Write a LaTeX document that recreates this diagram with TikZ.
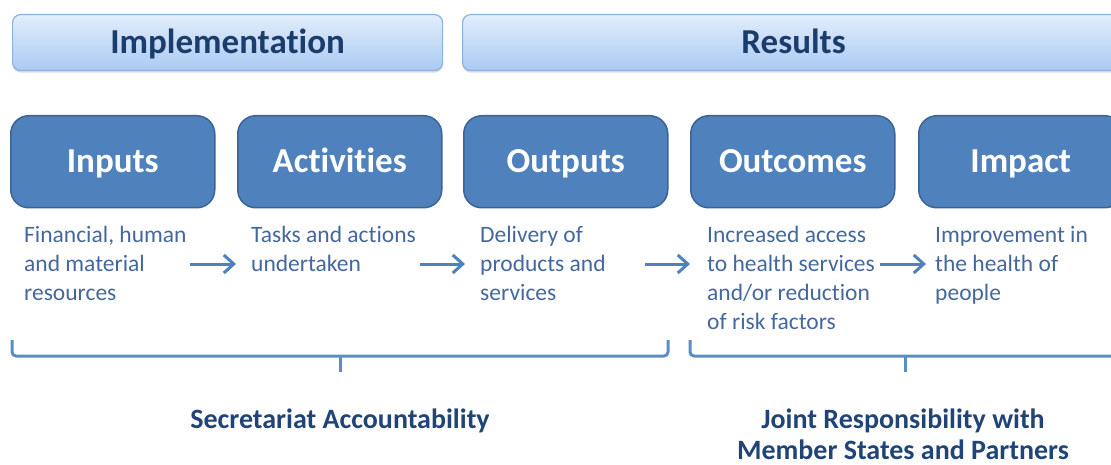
\documentclass[tikz,border=0pt]{standalone}
\usepackage{fontspec}
\setmainfont[Ligatures={NoCommon}]{Carlito}
\usetikzlibrary{arrows.meta,shadows}
\definecolor{hdrtop}{HTML}{E3EDFB}
\definecolor{hdrbot}{HTML}{AACAF3}
\definecolor{hdrline}{HTML}{8FB1DE}
\definecolor{hdrtext}{HTML}{1A3D6B}
\definecolor{boxfill}{HTML}{4F81BD}
\definecolor{boxline}{HTML}{3B6496}
\definecolor{desctext}{HTML}{44689D}
\definecolor{arrowc}{HTML}{4F81BD}
\definecolor{bracec}{HTML}{5D8BC7}
\definecolor{footc}{HTML}{1F4475}
\begin{document}
\begin{tikzpicture}[x=1pt,y=-1pt,
 header/.style={draw=hdrline, line width=1.2pt, rounded corners=8pt, top color=hdrtop, bottom color=hdrbot, anchor=north west, minimum height=56pt, inner sep=0pt, text height=25pt, text depth=3pt, font=\fontsize{35}{40}\selectfont\bfseries, text=hdrtext, drop shadow={shadow xshift=0pt, shadow yshift=-2pt, opacity=0.25, fill=gray}},
 stage/.style={draw=boxline, line width=1.5pt, rounded corners=18pt, fill=boxfill, anchor=north west, minimum width=204pt, minimum height=92pt, inner sep=0pt, text height=25pt, text depth=3pt, font=\fontsize{35}{40}\selectfont\bfseries, text=white},
 desc/.style={anchor=north west, inner sep=0pt, align=left, text=desctext, font=\fontsize{23.5}{29}\selectfont},
 flow/.style={draw=arrowc, line width=3pt, -{Straight Barb[length=10pt,width=18pt]}},
 brace/.style={draw=bracec, line width=3pt, rounded corners=4pt},
 foot/.style={text=footc, font=\fontsize{28}{31}\selectfont\bfseries, align=center, inner sep=0pt}
]
\useasboundingbox (0,0) rectangle (1111,465);
% headers
\node[header, minimum width=430pt] (impl) at (12,14) {Implementation};
\node[header, minimum width=662pt] (res) at (462,14) {Results};
% stages
\node[stage] (inputs) at (10,115) {Inputs};
\node[stage] (activities) at (237,115) {Activities};
\node[stage] (outputs) at (463,115) {Outputs};
\node[stage] (outcomes) at (690,115) {Outcomes};
\node[stage] (impact) at (918,115) {Impact};
% descriptions
\node[desc] (dinputs) at (24,226) {Financial, human\\and material\\resources};
\node[desc] (dactivities) at (251,226) {Tasks and actions\\undertaken};
\node[desc] (doutputs) at (480,226) {Delivery of\\products and\\services};
\node[desc] (doutcomes) at (707,226) {Increased access\\to health services\\and/or reduction\\of risk factors};
\node[desc] (dimpact) at (935,226) {Improvement in\\the health of\\people};
% arrows
\coordinate (a1s) at (190,264); \coordinate (a1e) at (236,264);
\coordinate (a2s) at (420,264); \coordinate (a2e) at (465,264);
\coordinate (a3s) at (645,264); \coordinate (a3e) at (690,264);
\coordinate (a4s) at (880,264); \coordinate (a4e) at (926,264);
\draw[flow] (a1s) -- (a1e);
\draw[flow] (a2s) -- (a2e);
\draw[flow] (a3s) -- (a3e);
\draw[flow] (a4s) -- (a4e);
% braces
\coordinate (b1l) at (12,340); \coordinate (b1r) at (668,340);
\coordinate (b1m) at (340,356); \coordinate (b1t) at (340,372);
\draw[brace] (b1l) |- (b1m) -| (b1r);
\draw[draw=bracec, line width=3pt] (b1m) -- (b1t);
\coordinate (b2l) at (690,340); \coordinate (b2r) at (1120,340);
\coordinate (b2m) at (905,356); \coordinate (b2t) at (905,372);
\draw[brace] (b2l) |- (b2m) -| (b2r);
\draw[draw=bracec, line width=3pt] (b2m) -- (b2t);
% footers
\node[foot, anchor=base] (sec) at (340,428) {Secretariat Accountability};
\node[foot, anchor=north] (joint) at (903,409) {Joint Responsibility with\\Member States and Partners};
\end{tikzpicture}
\end{document}
